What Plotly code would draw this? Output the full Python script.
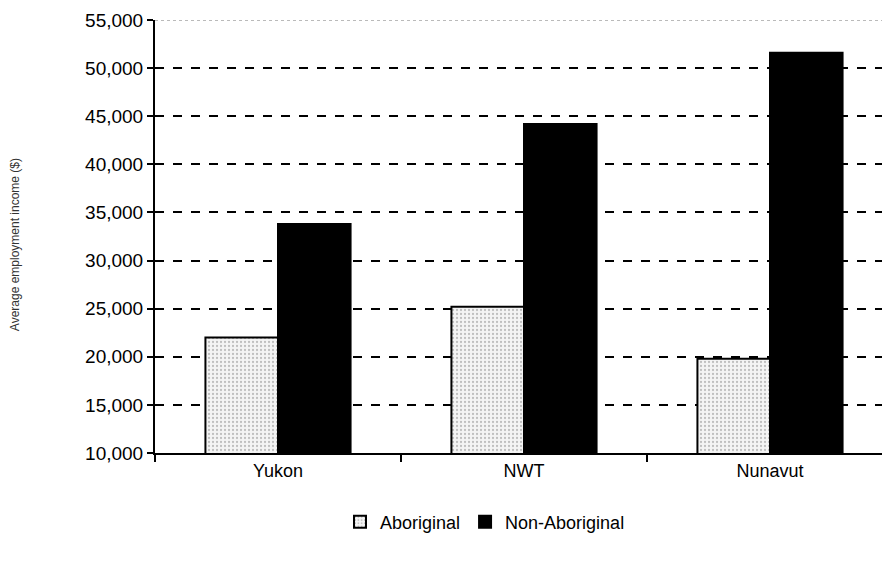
import plotly.graph_objects as go

# Average employment income by territory
territorios = ["Yukon", "NWT", "Nunavut"]
aborigenes = [22000, 25200, 19800]
nao_aborigenes = [33800, 44200, 51600]

# page body has an 8px margin, so the figure is offset by 8px
largura_plot = 890 - 147
largura_cat = 246

fig = go.Figure()

fig.add_trace(go.Bar(
    x=territorios, y=aborigenes, name="Aboriginal",
    marker=dict(
        color="#f2f2f2",
        line=dict(color="black", width=2),
        pattern=dict(shape=".", fgcolor="#8a8a8a", bgcolor="#f4f4f4", size=4, solidity=0.25),
    ),
))

fig.add_trace(go.Bar(
    x=territorios, y=nao_aborigenes, name="Non-Aboriginal",
    marker=dict(color="black", line=dict(color="black", width=2)),
))

fig.add_annotation(
    text="Average employment income ($)", textangle=-90,
    xref="paper", yref="paper", x=-140 / largura_plot, y=0.48,
    xanchor="center", yanchor="middle", showarrow=False,
    font=dict(size=12, color="#333"),
)

# faint top border line
fig.add_shape(type="line", xref="paper", yref="y", x0=0, x1=1, y0=55000, y1=55000,
              line=dict(color="#777", width=1, dash="dot"))

fig.update_layout(
    width=890, height=567,
    margin=dict(l=147, r=0, t=12, b=122),
    paper_bgcolor="white", plot_bgcolor="white",
    font=dict(family="Liberation Sans, Arial, sans-serif", color="black"),
    barmode="group", bargap=0.41, bargroupgap=0,
    showlegend=True,
    legend=dict(
        orientation="h", xref="container", yref="container",
        x=(485 - 8) / 890, y=1 - (522 - 8) / 567, xanchor="center", yanchor="middle",
        font=dict(size=18), itemwidth=30, traceorder="normal",
    ),
    xaxis=dict(
        range=[-0.5, -0.5 + largura_plot / largura_cat],
        showline=True, linecolor="black", linewidth=2,
        ticks="outside", tickson="boundaries", ticklen=7, tickwidth=2, tickcolor="black",
        tickfont=dict(size=18), showgrid=False, automargin=False,
    ),
    yaxis=dict(
        range=[10000, 55000], dtick=5000, tickformat=",",
        showline=True, linecolor="black", linewidth=2,
        ticks="outside", ticklen=6, tickwidth=1.5, tickcolor="black",
        tickfont=dict(size=19), automargin=False,
        showgrid=True, gridcolor="black", gridwidth=1.5, griddash="dash",
        zeroline=False,
    ),
)

fig.write_html("out.html")
